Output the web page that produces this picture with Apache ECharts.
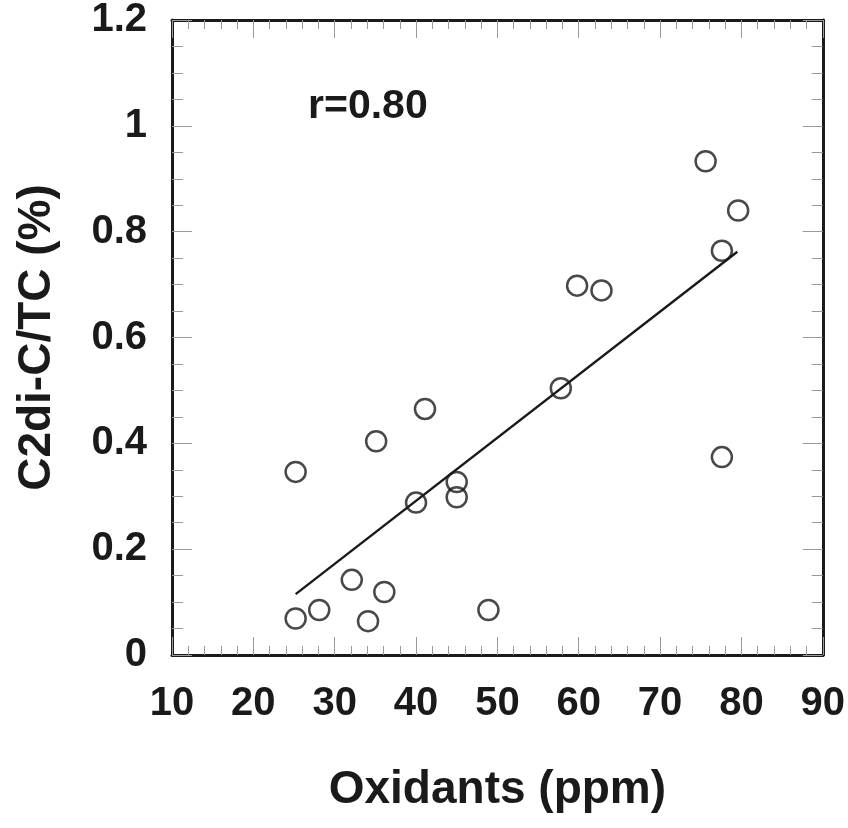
<!DOCTYPE html>
<html>
<head>
<meta charset="utf-8">
<title>C2di-C/TC vs Oxidants</title>
<script src="https://cdn.jsdelivr.net/npm/echarts@6/dist/echarts.min.js"></script>
<style>
  html, body { margin: 0; padding: 0; background: #fff; }
  #chart { width: 848px; height: 828px; }
</style>
</head>
<body>
<div id="chart"></div>
<script>
// measured points: oxidants (ppm) and C2di-C/TC (%)
const oxidants = [25.2, 35.1, 41.1, 45.0, 45.0, 40.0, 32.1, 36.1, 28.1, 25.2, 34.1, 48.9,
  75.6, 79.6, 77.6, 59.8, 62.8, 57.8, 77.6]
const ratio = [0.346, 0.404, 0.465, 0.327, 0.298, 0.288, 0.142, 0.119, 0.085, 0.069, 0.064, 0.085,
  0.933, 0.840, 0.764, 0.698, 0.689, 0.504, 0.374]
// regression line end points as drawn
const fitX = [25.2, 79.5]
const fitY = [0.115, 0.762]
const corrLabel = 'r=0.80'

const FONT = '"Liberation Sans", Arial, Helvetica, sans-serif'
const chart = echarts.init(document.getElementById('chart'))

const tickStyle = { color: '#9a9a9a', width: 1 }
const frameLine = { show: true, onZero: false, lineStyle: { color: '#1a1a1a', width: 3 } }

function baseX(extra) {
  return Object.assign({
    type: 'value', min: 10, max: 90, interval: 10,
    axisLine: frameLine,
    axisTick: { show: true, inside: true, length: 18, lineStyle: tickStyle },
    minorTick: { show: true, splitNumber: 5, length: 9, lineStyle: tickStyle },
    splitLine: { show: false },
  }, extra)
}
function baseY(extra) {
  return Object.assign({
    type: 'value', min: 0, max: 1.2, interval: 0.2,
    axisLine: frameLine,
    axisTick: { show: true, inside: true, length: 20, lineStyle: tickStyle },
    minorTick: { show: true, splitNumber: 4, length: 11, lineStyle: tickStyle },
    splitLine: { show: false },
  }, extra)
}

const option = {
  backgroundColor: '#fff',
  animation: false,
  grid: { left: 172, right: 23, top: 19, bottom: 173 },
  xAxis: [
    baseX({
      position: 'bottom',
      name: 'Oxidants (ppm)',
      nameLocation: 'middle',
      nameGap: 112,
      nameTextStyle: { fontFamily: FONT, fontWeight: 'bold', fontSize: 46, color: '#1a1a1a' },
      axisLabel: { margin: 29, fontFamily: FONT, fontWeight: 'bold', fontSize: 40, color: '#1a1a1a' },
    }),
    baseX({ position: 'top', axisLabel: { show: false } }),
  ],
  yAxis: [
    baseY({
      position: 'left',
      name: 'C2di-C/TC (%)',
      nameLocation: 'middle',
      nameGap: 112,
      nameTextStyle: { fontFamily: FONT, fontWeight: 'bold', fontSize: 46, color: '#1a1a1a' },
      axisLabel: { margin: 25, fontFamily: FONT, fontWeight: 'bold', fontSize: 40, color: '#1a1a1a' },
    }),
    baseY({ position: 'right', axisLabel: { show: false } }),
  ],
  graphic: [
    {
      type: 'text', left: 308, top: 86,
      style: { text: corrLabel, font: 'bold 41px ' + FONT, fill: '#1a1a1a' },
    },
  ],
  series: [
    {
      type: 'line',
      data: fitX.map((x, i) => [x, fitY[i]]),
      showSymbol: false,
      lineStyle: { color: '#1a1a1a', width: 2.4 },
      z: 2,
    },
    {
      type: 'scatter',
      data: oxidants.map((x, i) => [x, ratio[i]]),
      symbol: 'circle',
      symbolSize: 20,
      itemStyle: { color: 'rgba(255,255,255,0)', borderColor: '#1a1a1a', borderWidth: 2.5 },
      z: 3,
    },
  ],
}
chart.setOption(option)
</script>
</body>
</html>
